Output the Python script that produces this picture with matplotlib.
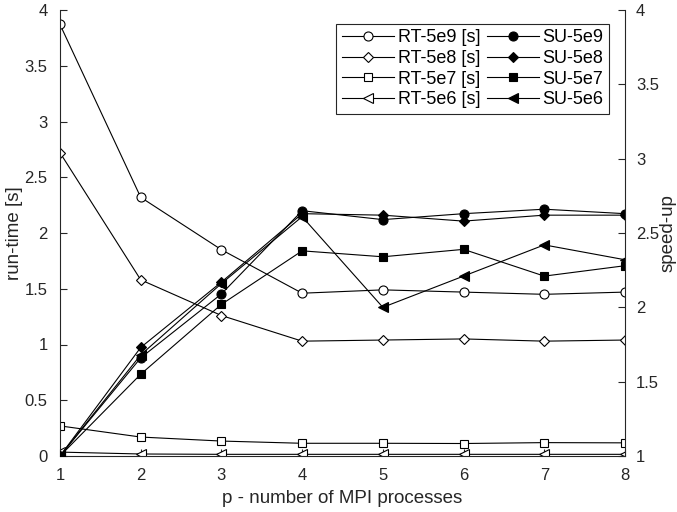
import matplotlib
matplotlib.use("Agg")
import matplotlib.pyplot as plt

plt.rcParams['font.family'] = ['Liberation Sans', 'DejaVu Sans']
plt.rcParams['font.size'] = 12

procs = [1, 2, 3, 4, 5, 6, 7, 8]

rt_5e9 = [3.87, 2.32, 1.85, 1.46, 1.49, 1.47, 1.45, 1.47]
rt_5e8 = [2.72, 1.58, 1.26, 1.03, 1.04, 1.05, 1.03, 1.04]
rt_5e7 = [0.27, 0.17, 0.134, 0.114, 0.114, 0.112, 0.12, 0.118]
rt_5e6 = [0.035, 0.018, 0.015, 0.015, 0.015, 0.015, 0.015, 0.015]

su_5e9 = [1.0, 1.66, 2.09, 2.65, 2.59, 2.63, 2.66, 2.63]
su_5e8 = [1.0, 1.73, 2.17, 2.63, 2.62, 2.58, 2.62, 2.62]
su_5e7 = [1.0, 1.55, 2.02, 2.38, 2.34, 2.39, 2.21, 2.28]
su_5e6 = [1.0, 1.68, 2.16, 2.61, 2.00, 2.21, 2.42, 2.32]

rt_labels = ['RT-5e9 [s]', 'RT-5e8 [s]', 'RT-5e7 [s]', 'RT-5e6 [s]']
su_labels = ['SU-5e9', 'SU-5e8', 'SU-5e7', 'SU-5e6']
markers = ['o', 'D', 's', '<']
msizes = [6.5, 5.5, 6.0, 6.5]

fig = plt.figure(figsize=(6.77, 5.12), dpi=100)
ax = fig.add_axes([60/677, 1-456/512, (625-60)/677, (456-10)/512])
ax2 = ax.twinx()

lw = 0.8
handles = []
for ys, lab, m, ms in zip([rt_5e9, rt_5e8, rt_5e7, rt_5e6], rt_labels, markers, msizes):
    h, = ax.plot(procs, ys, color='k', lw=lw, marker=m, ms=ms,
                 mfc='white', mec='k', mew=0.8, label=lab)
    handles.append(h)
for ys, lab, m, ms in zip([su_5e9, su_5e8, su_5e7, su_5e6], su_labels, markers, msizes):
    h, = ax2.plot(procs, ys, color='k', lw=lw, marker=m, ms=ms,
                  mfc='k', mec='k', mew=0.8, label=lab)
    handles.append(h)

ax.set_xlim(1, 8)
ax.set_ylim(0, 4)
ax2.set_ylim(1, 4)
ax.set_xticks(procs)
ax.set_yticks([0, 0.5, 1, 1.5, 2, 2.5, 3, 3.5, 4])
ax.set_yticklabels(['0', '0.5', '1', '1.5', '2', '2.5', '3', '3.5', '4'])
ax2.set_yticks([1, 1.5, 2, 2.5, 3, 3.5, 4])
ax2.set_yticklabels(['1', '1.5', '2', '2.5', '3', '3.5', '4'])

for a in (ax, ax2):
    a.spines['top'].set_visible(False)
    for s in a.spines.values():
        s.set_linewidth(0.8)
        s.set_color('#262626')
    a.tick_params(direction='in', length=5, width=0.8, colors='#262626',
                  labelsize=12, labelcolor='#262626')
ax.spines['right'].set_visible(False)
ax2.spines['left'].set_visible(False)
ax2.spines['bottom'].set_visible(False)
ax.tick_params(axis='x', pad=9)
ax.tick_params(axis='y', pad=9)
ax2.tick_params(axis='y', pad=8)

ax.set_xlabel('p - number of MPI processes', fontsize=13.5, color='#262626', labelpad=5)
ax.set_ylabel('run-time [s]', fontsize=13.5, color='#262626', labelpad=1)
ax2.set_ylabel('speed-up', fontsize=13.5, color='#262626', rotation=90, labelpad=0)

leg = ax2.legend(handles=handles, ncol=2, loc='upper right',
                 bbox_to_anchor=(609/677, 1-24/512), bbox_transform=fig.transFigure,
                 fancybox=False, framealpha=1, edgecolor='#262626',
                 handlelength=2.9, handletextpad=0.2, columnspacing=0.35,
                 labelspacing=0.2, borderpad=0.3, borderaxespad=0, fontsize=13)
leg.get_frame().set_linewidth(0.8)

fig.savefig('out.png', dpi=100)
